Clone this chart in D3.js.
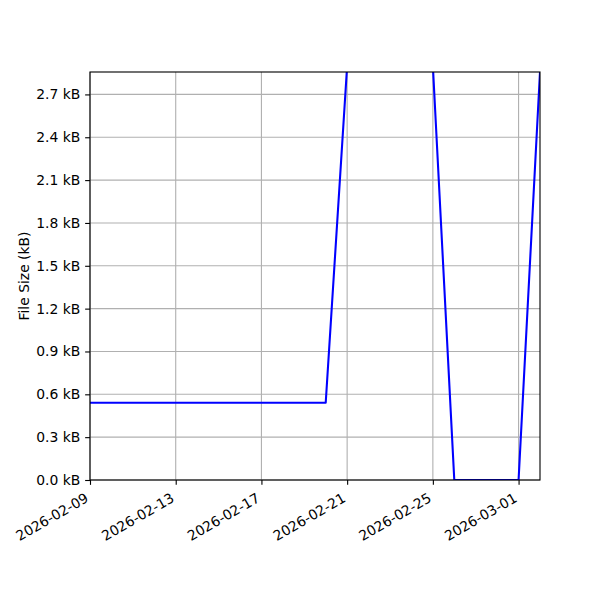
<!DOCTYPE html>
<html>
<head>
<meta charset="utf-8">
<script src="https://cdn.jsdelivr.net/npm/d3@7"></script>
<style>
  body { margin: 0; background: #fff; }
  svg text { font-family: 'DejaVu Sans', sans-serif; }
</style>
</head>
<body>
<svg id="chart"></svg>
<script>
// data (kB per day)
const dates = [
  '2026-02-09', '2026-02-10', '2026-02-11', '2026-02-12', '2026-02-13',
  '2026-02-14', '2026-02-15', '2026-02-16', '2026-02-17', '2026-02-18',
  '2026-02-19', '2026-02-20', '2026-02-21', '2026-02-22', '2026-02-23',
  '2026-02-24', '2026-02-25', '2026-02-26', '2026-02-27', '2026-02-28',
  '2026-03-01', '2026-03-02'
];
const sizes = [
  0.541, 0.541, 0.541, 0.541, 0.541,
  0.541, 0.541, 0.541, 0.541, 0.541,
  0.541, 0.541, 2.9, 3.1, 3.2,
  3.0, 2.9, 0, 0, 0,
  0, 2.857
];
const xTicks = ['2026-02-09', '2026-02-13', '2026-02-17', '2026-02-21', '2026-02-25', '2026-03-01'];
const yTicks = [0, 0.3, 0.6, 0.9, 1.2, 1.5, 1.8, 2.1, 2.4, 2.7];
const yMax = 2.857;

const width = 600;
const height = 600;
const margin = { top: 72, right: 60, bottom: 120, left: 90 };
const fontSize = 13.9;
const thin = 1.11; // 0.8pt at 100 dpi

const parse = d3.utcParse('%Y-%m-%d');
const data = dates.map((d, i) => ({ date: parse(d), val: sizes[i] }));

const x = d3
  .scaleUtc()
  .domain([parse(dates[0]), parse(dates[dates.length - 1])])
  .range([margin.left, width - margin.right]);

const y = d3
  .scaleLinear()
  .domain([0, yMax])
  .range([height - margin.bottom, margin.top]);

const svg = d3.select('#chart').attr('width', width).attr('height', height);

svg
  .append('defs')
  .append('clipPath')
  .attr('id', 'plotClip')
  .append('rect')
  .attr('x', margin.left)
  .attr('y', margin.top)
  .attr('width', width - margin.left - margin.right)
  .attr('height', height - margin.top - margin.bottom);

// grid
const grid = svg.append('g').attr('stroke', '#b0b0b0').attr('stroke-width', thin);
grid
  .selectAll('line.gx')
  .data(xTicks)
  .join('line')
  .attr('class', 'gx')
  .attr('x1', d => x(parse(d)))
  .attr('x2', d => x(parse(d)))
  .attr('y1', margin.top)
  .attr('y2', height - margin.bottom);
grid
  .selectAll('line.gy')
  .data(yTicks)
  .join('line')
  .attr('class', 'gy')
  .attr('x1', margin.left)
  .attr('x2', width - margin.right)
  .attr('y1', d => y(d))
  .attr('y2', d => y(d));

// line
const lineFunc = d3
  .line()
  .x(d => x(d.date))
  .y(d => y(d.val));

svg
  .append('path')
  .datum(data)
  .attr('clip-path', 'url(#plotClip)')
  .attr('fill', 'none')
  .attr('stroke', '#0000ff')
  .attr('stroke-width', 2.08)
  .attr('stroke-linejoin', 'round')
  .attr('d', lineFunc);

// axes
const xAxis = svg
  .append('g')
  .attr('transform', `translate(0, ${height - margin.bottom})`)
  .call(
    d3
      .axisBottom(x)
      .tickValues(xTicks.map(parse))
      .tickFormat(d3.utcFormat('%Y-%m-%d'))
      .tickSize(4.86)
      .tickPadding(4.86)
  );
xAxis.select('.domain').remove();
xAxis.selectAll('.tick line').attr('stroke', '#000').attr('stroke-width', thin);
xAxis
  .selectAll('.tick text')
  .attr('font-size', fontSize)
  .attr('fill', '#000')
  .attr('text-anchor', 'end')
  .attr('dy', null)
  .attr('y', null)
  .attr('transform', `translate(-1, ${9.7 + 0.866 * 12.9}) rotate(-30)`);

const yAxis = svg
  .append('g')
  .attr('transform', `translate(${margin.left}, 0)`)
  .call(
    d3
      .axisLeft(y)
      .tickValues(yTicks)
      .tickFormat(d => `${d3.format('.1f')(d)} kB`)
      .tickSize(4.86)
      .tickPadding(4.86)
  );
yAxis.select('.domain').remove();
yAxis.selectAll('.tick line').attr('stroke', '#000').attr('stroke-width', thin);
yAxis.selectAll('.tick text').attr('font-size', fontSize).attr('fill', '#000');

// frame
svg
  .append('rect')
  .attr('x', margin.left)
  .attr('y', margin.top)
  .attr('width', width - margin.left - margin.right)
  .attr('height', height - margin.top - margin.bottom)
  .attr('fill', 'none')
  .attr('stroke', '#000')
  .attr('stroke-width', thin);

svg
  .append('text')
  .attr('transform', `translate(24, ${(margin.top + height - margin.bottom) / 2}) rotate(-90)`)
  .attr('text-anchor', 'middle')
  .attr('dominant-baseline', 'central')
  .attr('font-size', fontSize)
  .text('File Size (kB)');
</script>
</body>
</html>
